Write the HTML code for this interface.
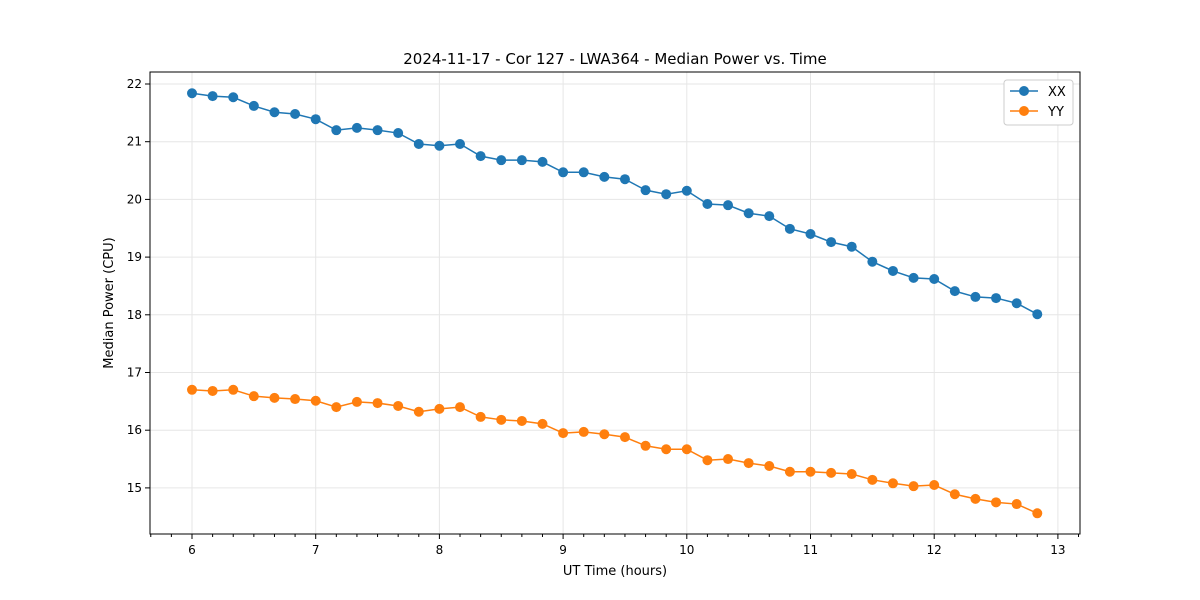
<!DOCTYPE html>
<html><head><meta charset="utf-8"><style>body{margin:0;background:#fff}svg{display:block;font-family:"DejaVu Sans","Liberation Sans",sans-serif}</style></head>
<body>
<svg id="chart" width="1200" height="600">
<rect width="1200" height="600" fill="#fff"/>
<text x="615" y="64" text-anchor="middle" font-size="15">2024-11-17 - Cor 127 - LWA364 - Median Power vs. Time</text>
<g id="grid"></g><g id="axes"></g><g id="series"></g>
<rect x="150" y="72" width="930" height="462" fill="none" stroke="#000" stroke-width="1"/>
<text x="615" y="575" text-anchor="middle" font-size="13">UT Time (hours)</text>
<text transform="translate(113,303) rotate(-90)" text-anchor="middle" font-size="13">Median Power (CPU)</text>
<g>
<rect x="1004" y="80" width="69" height="45" rx="3" fill="#fff" stroke="#ccc"/>
<g><line x1="1010" y1="91" x2="1038" y2="91" stroke="#1f77b4" stroke-width="1.5"/><circle cx="1024" cy="91" r="5" fill="#1f77b4"/><text x="1048" y="96" font-size="13">XX</text></g>
<g><line x1="1010" y1="111" x2="1038" y2="111" stroke="#ff7f0e" stroke-width="1.5"/><circle cx="1024" cy="111" r="5" fill="#ff7f0e"/><text x="1048" y="116" font-size="13">YY</text></g>
</g>
</svg>
<script>
const xTicks=[6,7,8,9,10,11,12,13];
const yTicks=[15,16,17,18,19,20,21,22];
const xx=[21.84,21.79,21.77,21.62,21.51,21.48,21.39,21.20,21.24,21.20,21.15,20.96,20.93,20.96,20.75,20.68,20.68,20.65,20.47,20.47,20.39,20.35,20.16,20.09,20.15,19.92,19.90,19.76,19.71,19.49,19.40,19.26,19.18,18.92,18.76,18.64,18.62,18.41,18.31,18.29,18.20,18.01];
const yy=[16.70,16.68,16.70,16.59,16.56,16.54,16.51,16.40,16.49,16.47,16.42,16.32,16.37,16.40,16.23,16.18,16.16,16.11,15.95,15.97,15.93,15.88,15.73,15.67,15.67,15.48,15.50,15.43,15.38,15.28,15.28,15.26,15.24,15.14,15.08,15.03,15.05,14.89,14.81,14.75,14.72,14.56];
const times=xx.map((_,i)=>6+i/6);
const X=v=>192+(v-6)*123.7, Y=v=>84+(22-v)*57.7;
const NS='http://www.w3.org/2000/svg';
function mk(t,a,p){const e=document.createElementNS(NS,t);for(const k in a)e.setAttribute(k,a[k]);p.appendChild(e);return e;}
const grid=document.getElementById('grid'),axes=document.getElementById('axes'),ser=document.getElementById('series');
xTicks.forEach(t=>{const x=X(t);
 const g=mk('line',{x1:x,x2:x,y1:72,y2:534,stroke:'#e6e6e6'},grid);
 
 
 mk('line',{x1:x,x2:x,y1:534,y2:539,stroke:'#000'},axes);
 const l=mk('text',{x:x,y:554,'text-anchor':'middle','font-size':12},axes);l.textContent=t;
 
 });
for(let k=-3;k<=44;k++){if(k%6===0)continue;const x=X(6+k/6);if(x<150||x>1080)continue;mk('line',{x1:x,x2:x,y1:534,y2:537,stroke:'#000'},axes);}
yTicks.forEach(t=>{const y=Y(t);
 const g=mk('line',{x1:150,x2:1080,y1:y,y2:y,stroke:'#e6e6e6'},grid);
 
 
 mk('line',{x1:145,x2:150,y1:y,y2:y,stroke:'#000'},axes);
 const l=mk('text',{x:142,y:y+4,'text-anchor':'end','font-size':12},axes);l.textContent=t;
 
 });
function draw(vals,color,name){
 const p=mk('polyline',{points:vals.map((v,i)=>X(times[i])+','+Y(v)).join(' '),fill:'none',stroke:color,'stroke-width':1.5},ser);
 
 
 vals.forEach((v,i)=>{const c=mk('circle',{cx:X(times[i]),cy:Y(v),r:5,fill:color},ser);
  
  });
}
draw(xx,'#1f77b4','xx');
draw(yy,'#ff7f0e','yy');
</script>
</body></html>
